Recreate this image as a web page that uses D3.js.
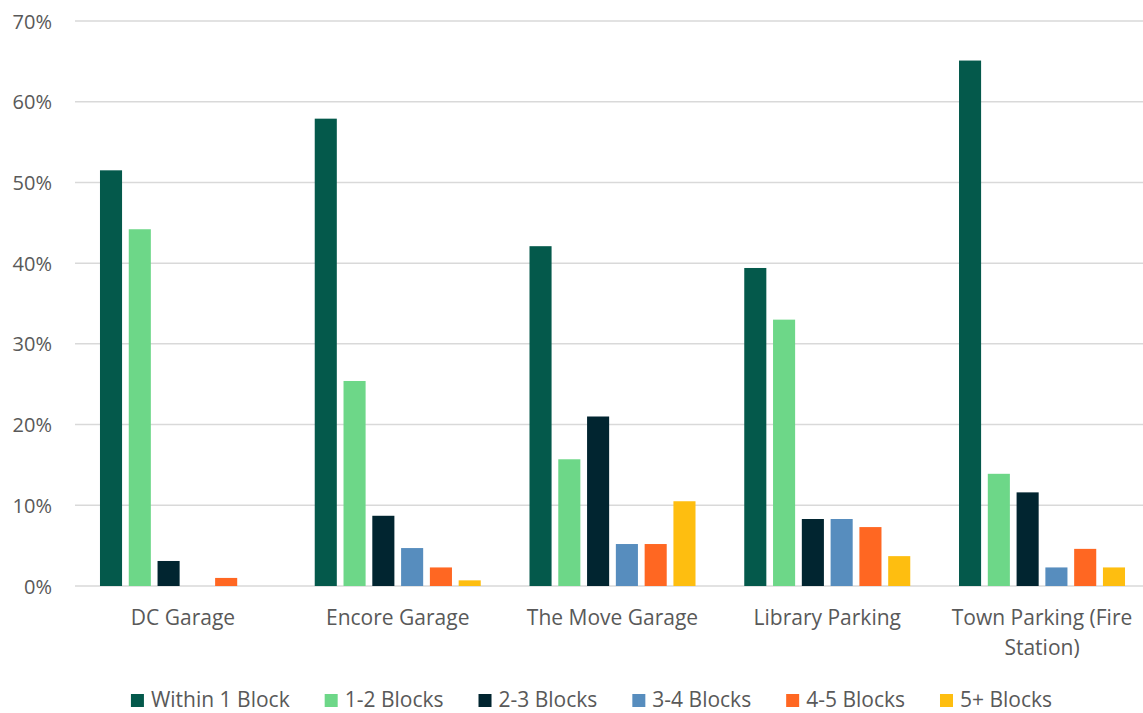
<!DOCTYPE html>
<html>
<head>
<meta charset="utf-8">
<script src="https://cdn.jsdelivr.net/npm/d3@7"></script>
<style>
  body { margin: 0; background: #fff; }
  svg { display: block; }
  text { font-family: "Open Sans", "Noto Sans", sans-serif; fill: #595959; }
</style>
</head>
<body>
<svg id="chart" width="1143" height="713"></svg>
<script>
// Parking locations and walking-distance bins
const categories = ["DC Garage", "Encore Garage", "The Move Garage", "Library Parking", "Town Parking (Fire Station)"];
const seriesNames = ["Within 1 Block", "1-2 Blocks", "2-3 Blocks", "3-4 Blocks", "4-5 Blocks", "5+ Blocks"];
const seriesColors = ["#04594B", "#6DD788", "#012530", "#578DBE", "#FF6722", "#FEBE10"];

// Share of respondents (%) per bin, one array per location
const dcGarage      = [51.5, 44.2, 3.1, 0.0, 1.0, 0.0];
const encoreGarage  = [57.9, 25.4, 8.7, 4.7, 2.3, 0.7];
const moveGarage    = [42.1, 15.7, 21.0, 5.2, 5.2, 10.5];
const libraryPark   = [39.4, 33.0, 8.3, 8.3, 7.3, 3.7];
const townParking   = [65.1, 13.9, 11.6, 2.3, 4.6, 2.3];
const values = [dcGarage, encoreGarage, moveGarage, libraryPark, townParking];

const yTicks = [0, 10, 20, 30, 40, 50, 60, 70];

const svg = d3.select("#chart");
const plotLeft = 75, plotRight = 1143, plotTop = 21, plotBottom = 586;

const y = d3.scaleLinear().domain([0, 70]).range([plotBottom, plotTop]);

// Category bands run a little past the right edge of the gridlines
const x0 = d3.scaleBand().domain(categories).range([75.6, 1149.4])
  .paddingInner(0.227).paddingOuter(0.1135);
const x1 = d3.scaleBand().domain(seriesNames).range([0, x0.bandwidth()])
  .paddingInner(0.233).paddingOuter(0);

// Gridlines
svg.append("g").selectAll("line").data(yTicks).join("line")
  .attr("x1", plotLeft).attr("x2", plotRight)
  .attr("y1", d => y(d)).attr("y2", d => y(d))
  .attr("stroke", "#d9d9d9").attr("stroke-width", 1.5);

// Y-axis labels
const yAxis = d3.axisLeft(y).tickValues(yTicks).tickFormat(d => d + "%").tickSize(0).tickPadding(0);
const gy = svg.append("g").attr("transform", "translate(52,0)").call(yAxis);
gy.select(".domain").remove();
gy.selectAll("text").attr("font-size", 20).attr("fill", "#595959")
  .style("font-family", "'Open Sans', sans-serif").attr("dy", "0.35em");

// Bars
const groups = svg.append("g").selectAll("g").data(categories).join("g")
  .attr("transform", d => `translate(${x0(d)},0)`);
groups.selectAll("rect")
  .data((c, i) => seriesNames.map((s, j) => ({ s, j, v: values[i][j] })))
  .join("rect")
  .attr("x", d => x1(d.s))
  .attr("width", x1.bandwidth())
  .attr("y", d => y(d.v))
  .attr("height", d => y(0) - y(d.v))
  .attr("fill", d => seriesColors[d.j]);

// Category labels (wrapped to fit the band)
const labelWrap = { "Town Parking (Fire Station)": ["Town Parking (Fire", "Station)"] };
svg.append("g").selectAll("text").data(categories).join("text")
  .attr("x", d => x0(d) + x0.bandwidth() / 2)
  .attr("y", 625)
  .attr("text-anchor", "middle")
  .attr("font-size", 21)
  .each(function (d) {
    const lines = labelWrap[d] || [d];
    d3.select(this).selectAll("tspan").data(lines).join("tspan")
      .attr("x", x0(d) + x0.bandwidth() / 2)
      .attr("dy", (l, i) => i === 0 ? 0 : 30)
      .text(l => l);
  });

// Legend
const legend = svg.append("g");
const items = legend.selectAll("g").data(seriesNames).join("g");
items.append("rect").attr("width", 13).attr("height", 13).attr("y", -13)
  .attr("fill", (d, i) => seriesColors[i]);
items.append("text").attr("x", 20).attr("y", 0).attr("font-size", 21).text(d => d);
let xPos = 0;
const gap = 35;
items.each(function () {
  const w = 20 + this.querySelector("text").getComputedTextLength();
  d3.select(this).attr("transform", `translate(${xPos},0)`);
  xPos += w + gap;
});
const totalW = xPos - gap;
legend.attr("transform", `translate(${591.5 - totalW / 2},707)`);
</script>
</body>
</html>
